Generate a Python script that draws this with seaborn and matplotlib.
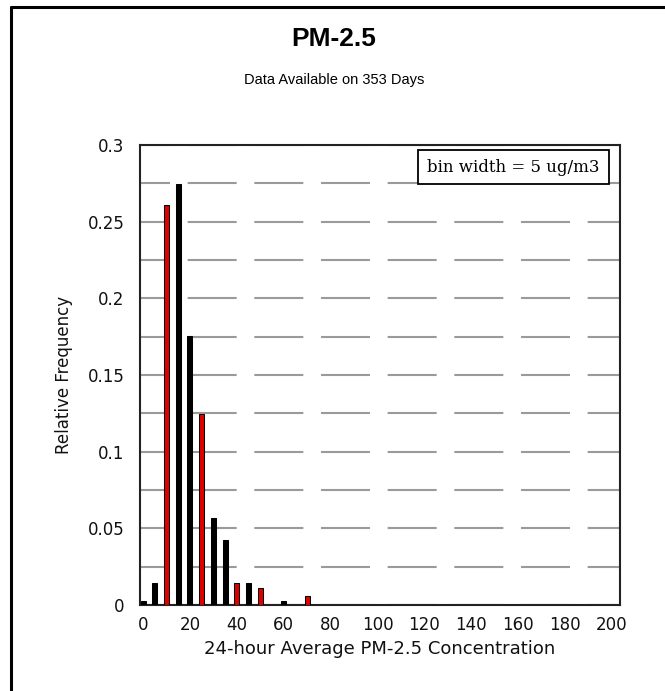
import matplotlib
matplotlib.use("Agg")
import matplotlib.pyplot as plt
from matplotlib.lines import Line2D
from matplotlib.patches import Rectangle
import seaborn as sns
import pandas as pd

# ---- data ----
bin_start = [0, 5, 10, 15, 20, 25, 30, 35, 40, 45, 50, 60, 70]
day_counts = [1, 5, 92, 97, 62, 44, 20, 15, 5, 5, 4, 1, 2]
bar_color = ["k", "k", "r", "k", "k", "r", "k", "k", "r", "k", "r", "k", "r"]
total_days = 353
x_ticks = [0, 20, 40, 60, 80, 100, 120, 140, 160, 180, 200]
y_ticks = [0, 0.05, 0.1, 0.15, 0.2, 0.25, 0.3]
y_tick_labels = ["0", "0.05", "0.1", "0.15", "0.2", "0.25", "0.3"]

rel_freq = [c / total_days for c in day_counts]
df = pd.DataFrame({"bin": bin_start, "freq": rel_freq, "col": bar_color})

sns.set_theme(style="white")
plt.rcParams["lines.scale_dashes"] = False

W, H = 665, 691
fig = plt.figure(figsize=(W / 100, H / 100), dpi=100)
ax = fig.add_axes([140 / W, 1 - 605 / H, (620 - 140) / W, (605 - 145) / H])

sns.barplot(data=df, x="bin", y="freq", hue="col",
            palette={"r": "#e00000", "k": "#000000"}, saturation=1,
            native_scale=True, dodge=False, width=0.42,
            edgecolor="black", linewidth=0.75, legend=False, ax=ax, zorder=3)

ax.set_xlim(-1.3, 203.4)
ax.set_ylim(0, 0.3)

# dashed horizontal grid every 0.025
ax.set_yticks(y_ticks)
ax.set_yticklabels(y_tick_labels)
ax.set_yticks([i * 0.025 for i in range(13)], minor=True)
ax.yaxis.grid(True, which="both", color="#9a9a9a", linewidth=1.5,
              linestyle=(13.7, (35.3, 12.7)), zorder=0)
ax.xaxis.grid(False)
ax.set_axisbelow(True)

ax.set_xticks(x_ticks)
ax.set_xticklabels([str(v) for v in x_ticks])
ax.tick_params(axis="x", length=0, pad=8, labelsize=12, labelcolor="#111111")
ax.tick_params(axis="y", which="both", length=0, pad=11, labelsize=12,
               labelcolor="#111111")
for lab in ax.get_xticklabels() + ax.get_yticklabels():
    lab.set_family("DejaVu Sans")

for s in ["left", "right", "top", "bottom"]:
    ax.spines[s].set_visible(True)
    ax.spines[s].set_color("#222222")
    ax.spines[s].set_linewidth(1.5)

ax.set_xlabel("24-hour Average PM-2.5 Concentration", fontsize=13,
              family="DejaVu Sans", color="#111111", labelpad=4)
ax.set_ylabel("Relative Frequency", fontsize=12, family="DejaVu Sans",
              color="#111111", labelpad=11)

# annotation box
fig.add_artist(Rectangle((418 / W, 1 - 184 / H), (609 - 418) / W, 34 / H,
                         transform=fig.transFigure, facecolor="white",
                         edgecolor="black", linewidth=1.3, zorder=5))
fig.text((418 + 609) / 2 / W, 1 - 167.5 / H, "bin width = 5 ug/m3",
         family="DejaVu Serif", fontsize=12, ha="center", va="center",
         color="black", zorder=6)

# titles
fig.text(334 / W, 1 - 39 / H, "PM-2.5", family="Liberation Sans",
         fontweight="bold", fontsize=19, ha="center", va="center", color="black")
fig.text(334 / W, 1 - 80 / H, "Data Available on 353 Days",
         family="Liberation Sans", fontsize=10.5, ha="center", va="center",
         color="black")

# outer frame (left and top edges)
fig.add_artist(Line2D([10.5 / W, 10.5 / W], [0, 1 - 7 / H], transform=fig.transFigure,
                      color="black", linewidth=2.2))
fig.add_artist(Line2D([10.5 / W, 1], [1 - 7 / H, 1 - 7 / H], transform=fig.transFigure,
                      color="black", linewidth=2.2))

fig.savefig("out.png", dpi=100, facecolor="white")
